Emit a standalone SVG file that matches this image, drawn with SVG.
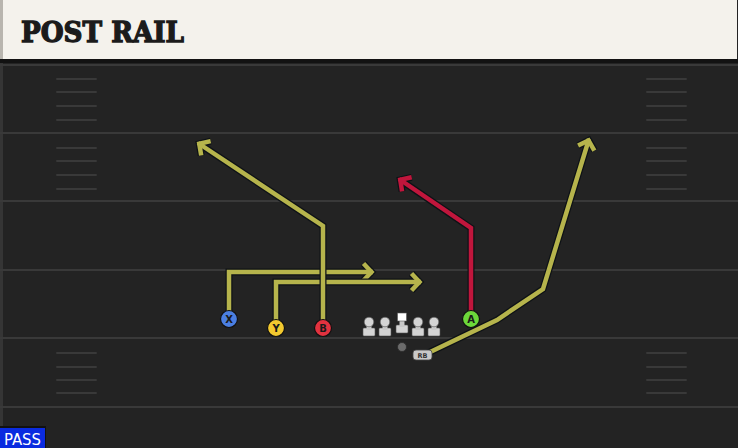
<svg xmlns="http://www.w3.org/2000/svg" width="738" height="448" viewBox="0 0 738 448">
<style>
.yard{stroke:#393939;stroke-width:2}
.hash{stroke:#393939;stroke-width:2;stroke-linecap:round}
.under{fill:none;stroke:#0e1216;stroke-width:7;stroke-linejoin:miter}
.yel{fill:none;stroke:#b6b44c;stroke-width:4.5;stroke-linejoin:miter}
.red{fill:none;stroke:#c0163c;stroke-width:4.5;stroke-linejoin:miter}
.ply{stroke:#111;stroke-width:1.2}
.lbl{font-family:"DejaVu Sans",sans-serif;font-weight:bold;font-size:10px;fill:#1a1a1a;text-anchor:middle}
.ol{fill:#d4d4d4;stroke:#555;stroke-width:0.6}
</style>
<defs>
<marker id="ahK" markerUnits="userSpaceOnUse" markerWidth="28" markerHeight="28" viewBox="-16 -14 28 28" refX="0" refY="0" orient="auto" overflow="visible">
<path d="M-9.5,-8.5 L-1.5,0 L-9.5,8.5" fill="none" stroke="#0e1216" stroke-width="7"/>
</marker>
<marker id="ahY" markerUnits="userSpaceOnUse" markerWidth="28" markerHeight="28" viewBox="-16 -14 28 28" refX="0" refY="0" orient="auto" overflow="visible">
<path d="M-9.5,-8.5 L-1.5,0 L-9.5,8.5" fill="none" stroke="#b6b44c" stroke-width="4.5"/>
</marker>
<marker id="ahR" markerUnits="userSpaceOnUse" markerWidth="28" markerHeight="28" viewBox="-16 -14 28 28" refX="0" refY="0" orient="auto" overflow="visible">
<path d="M-9.5,-8.5 L-1.5,0 L-9.5,8.5" fill="none" stroke="#c0163c" stroke-width="4.5"/>
</marker>
<g id="lineman">
<rect x="-6" y="11" width="12" height="8" rx="1" class="ol"/>
<rect x="-2.5" y="5" width="5" height="8" fill="#c8c8c8"/>
<circle cx="0" cy="5" r="4.8" class="ol"/>
</g>
</defs>

<!-- field -->
<rect x="0" y="0" width="738" height="448" fill="#232323"/>
<rect x="0" y="60" width="3" height="388" fill="#353535"/>
<g id="yardlines">
<line class="yard" x1="0" y1="65" x2="738" y2="65"/>
<line class="yard" x1="0" y1="133" x2="738" y2="133"/>
<line class="yard" x1="0" y1="201" x2="738" y2="201"/>
<line class="yard" x1="0" y1="270" x2="738" y2="270"/>
<line class="yard" x1="0" y1="338" x2="738" y2="338"/>
<line class="yard" x1="0" y1="407" x2="738" y2="407"/>
</g>
<g id="hashes">
<path class="hash" d="M57,79H96M57,92H96M57,106H96M57,120H96M57,148H96M57,161H96M57,175H96M57,189H96M57,353H96M57,367H96M57,380H96M57,393H96"/>
<path class="hash" d="M647,79H686M647,92H686M647,106H686M647,120H686M647,148H686M647,161H686M647,175H686M647,189H686M647,353H686M647,367H686M647,380H686M647,393H686"/>
</g>

<!-- header -->
<g id="header">
<rect x="0" y="59" width="738" height="4" fill="#121212"/>
<rect x="0" y="0" width="737" height="59" fill="#f4f2ec"/>
<rect x="0" y="0" width="3" height="59" fill="#b8b5ae"/>
<text x="21" y="42" font-family="'DejaVu Serif',serif" font-weight="bold" font-size="27" textLength="163" lengthAdjust="spacingAndGlyphs" fill="#1b1b1b" stroke="#1b1b1b" stroke-width="1.3" stroke-linejoin="miter">POST RAIL</text>
</g>

<!-- connectors -->
<g id="connectors">
<g id="routeX">
<path class="under" d="M229,312 V272 H373" marker-end="url(#ahK)"/>
<path class="yel" d="M229,312 V272 H373" marker-end="url(#ahY)"/>
</g>
<g id="routeY">
<path class="under" d="M276,321 V282 H421" marker-end="url(#ahK)"/>
<path class="yel" d="M276,321 V282 H421" marker-end="url(#ahY)"/>
</g>
<g id="routeB">
<path class="under" d="M323,321 V226 L198,143" marker-end="url(#ahK)"/>
<path class="yel" d="M323,321 V226 L198,143" marker-end="url(#ahY)"/>
</g>
<g id="routeA">
<path class="under" d="M471,312 V228 L399,179" marker-end="url(#ahK)"/>
<path class="red" d="M471,312 V228 L399,179" marker-end="url(#ahR)"/>
</g>
<g id="routeRB">
<path class="under" d="M426,354 L497,320 L543,289 L589,139" marker-end="url(#ahK)"/>
<path class="yel" d="M426,354 L497,320 L543,289 L589,139" marker-end="url(#ahY)"/>
</g>
</g>

<!-- players -->
<g id="X"><circle class="ply" cx="229" cy="319" r="8.5" fill="#4b7fe2"/><text class="lbl" x="229" y="323">X</text></g>
<g id="Y"><circle class="ply" cx="276" cy="328" r="8.5" fill="#f3c92f"/><text class="lbl" x="276" y="332">Y</text></g>
<g id="B"><circle class="ply" cx="323" cy="328" r="8.5" fill="#e2323f"/><text class="lbl" x="323" y="332">B</text></g>
<g id="A"><circle class="ply" cx="471" cy="319" r="8.5" fill="#6cd83a"/><text class="lbl" x="471" y="323">A</text></g>
<g id="LT"><use href="#lineman" x="369" y="317"/></g>
<g id="LG"><use href="#lineman" x="385" y="317"/></g>
<g id="C">
<rect x="396" y="325" width="12" height="8" rx="1" class="ol"/>
<rect x="399.5" y="319" width="5" height="8" fill="#c8c8c8"/>
<rect x="397.5" y="313" width="9" height="8" fill="#ffffff" stroke="#555" stroke-width="0.6"/>
</g>
<g id="RG"><use href="#lineman" x="418" y="317"/></g>
<g id="RT"><use href="#lineman" x="434" y="317"/></g>
<g id="QB"><circle cx="402" cy="347" r="4.5" fill="#6b6b6b" stroke="#2a2a2a" stroke-width="0.8"/></g>
<g id="RB">
<rect x="413" y="350" width="19" height="10" rx="3" fill="#c9c9c9" stroke="#444" stroke-width="0.8"/>
<text x="422.5" y="358" font-family="'DejaVu Sans',sans-serif" font-weight="bold" font-size="6.5" fill="#333" text-anchor="middle">RB</text>
</g>

<!-- badge -->
<g id="pass">
<rect x="0" y="426" width="46" height="22" fill="#111"/>
<rect x="0" y="428" width="45" height="20" fill="#0a2be0"/>
<text x="22.5" y="444.5" font-family="'DejaVu Sans Condensed','DejaVu Sans',sans-serif" font-size="15" fill="#ffffff" text-anchor="middle" textLength="37" lengthAdjust="spacingAndGlyphs">PASS</text>
</g>
</svg>
